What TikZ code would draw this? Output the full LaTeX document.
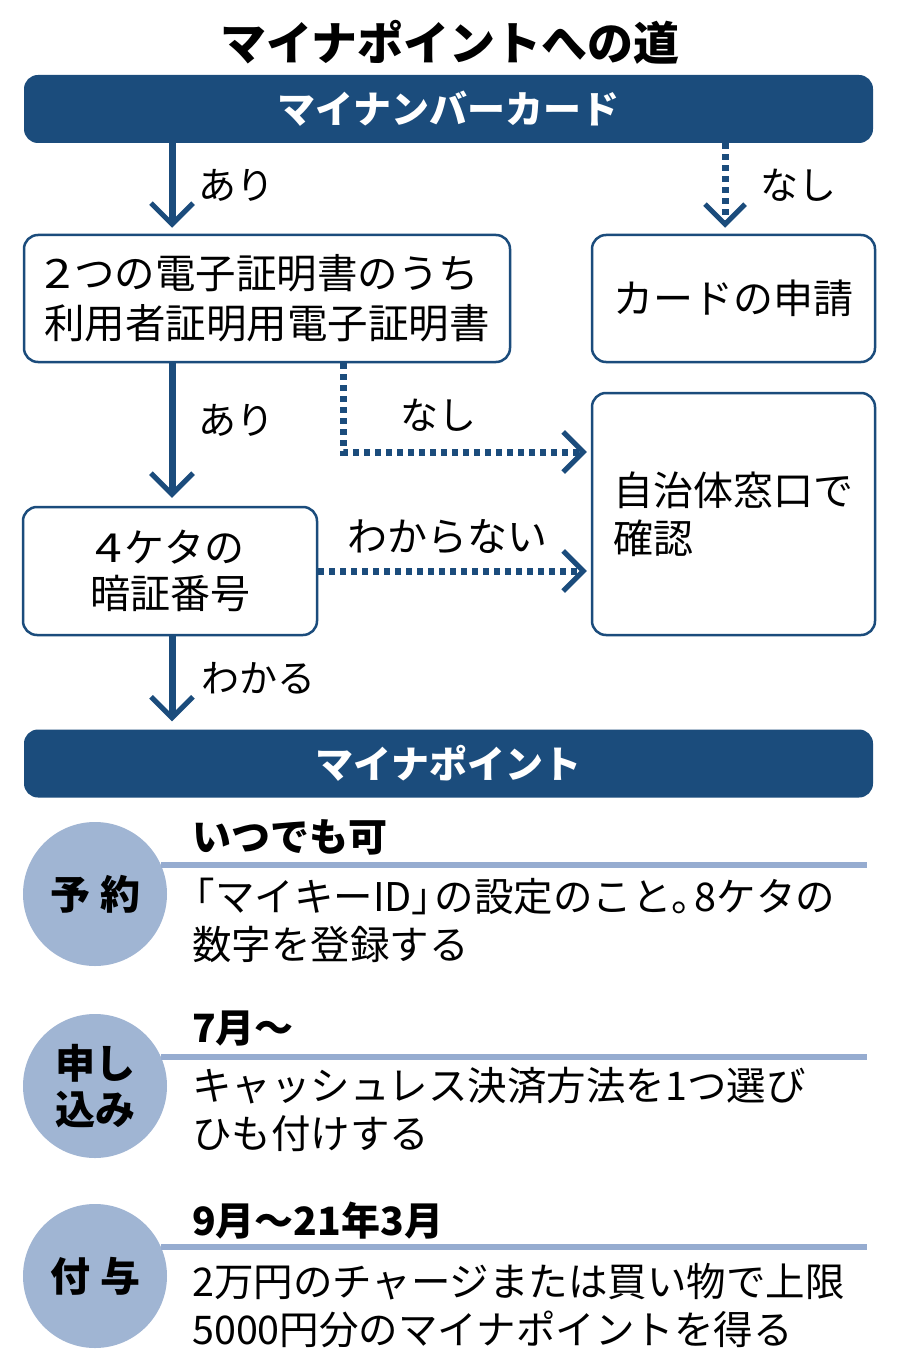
\documentclass[tikz,border=0pt]{standalone}
\usepackage{fontspec}
\usepackage{graphicx}
\setmainfont{Noto Sans CJK JP}
\usetikzlibrary{arrows.meta}
\definecolor{navy}{RGB}{27,76,124}
\definecolor{pale}{RGB}{160,181,211}
\definecolor{paleline}{RGB}{150,172,208}
\newcommand{\fsz}[2]{\fontsize{#1}{#2}\selectfont}
\newcommand{\wdig}[1]{\scalebox{1.2}[1]{#1}\hspace{3pt}}
\begin{document}
\begin{tikzpicture}[x=1pt,y=-1pt,
  banner/.style={fill=navy, rounded corners=14pt, text=white, font=\fsz{38}{46}\bfseries,
    minimum width=849pt, minimum height=68pt, inner sep=0pt},
  box/.style={draw=navy, line width=2.5pt, rounded corners=14pt, fill=white,
    inner sep=0pt, font=\fsz{40}{48}},
  lbl/.style={font=\fsz{38}{46}, inner sep=0pt},
  solidarrow/.style={draw=navy, line width=7pt,
    -{Straight Barb[length=21pt,width=42pt,line width=5pt]}},
  dasharrow/.style={draw=navy, line width=7pt, dash pattern=on 6pt off 5pt,
    -{Straight Barb[length=20pt,width=40pt,line width=5pt]}},
  circ/.style={circle, fill=pale, minimum size=144pt, inner sep=0pt,
    font=\fsz{40}{46}\bfseries, align=center},
  secline/.style={draw=paleline, line width=6pt},
  head/.style={anchor=west, inner sep=0pt, font=\fsz{39}{46}\bfseries},
  body/.style={anchor=west, inner sep=0pt, font=\fsz{39.5}{48}, align=left}
]
\useasboundingbox (0,0) rectangle (900,1364);
\fill[white] (0,0) rectangle (900,1364);

% title
\node[inner sep=0pt, font=\fsz{46}{52}\bfseries] (title) at (450,42) {マイナポイントへの道};

% banners
\node[banner] (card) at (448.5,109) {マイナンバーカード};
\node[banner] (point) at (448.5,763.5) {マイナポイント};

% boxes
\node[box, minimum width=486pt, minimum height=127pt, align=left, font=\fsz{40.5}{50}]
  (cert) at (267,298.5) {\wdig{2}つの電子証明書のうち\\利用者証明用電子証明書};
\node[box, minimum width=283pt, minimum height=127pt] (apply) at (733.5,298.5) {カードの申請};
\node[box, minimum width=283pt, minimum height=242pt, align=left] (office) at (733.5,514) {自治体窓口で\\確認};
\node[box, minimum width=294pt, minimum height=128pt, align=center, font=\fsz{40}{46}] (pin) at (170,571) {\wdig{4}ケタの\\暗証番号};

% helper coordinates
\coordinate (ax) at (172,0);
\coordinate (rx) at (725,0);
\coordinate (mx) at (343,452);

% connectors
\draw[solidarrow, shorten >=6pt] (ax |- card.south) -- (ax |- cert.north);
\draw[dasharrow, shorten >=6pt] (rx |- card.south) -- (rx |- apply.north);
\draw[solidarrow, shorten >=8pt] (ax |- cert.south) -- (ax |- pin.north);
\draw[dasharrow, shorten >=4pt] (mx |- cert.south) -- (mx) -- (mx -| office.west);
\draw[dasharrow, shorten >=4pt] (pin.east) -- (pin.east -| office.west);
\draw[solidarrow, shorten >=8pt] (ax |- pin.south) -- (ax |- point.north);

% labels
\node[lbl] (l1) at (236,185) {あり};
\node[lbl] (l2) at (798,185) {なし};
\node[lbl] (l3) at (236,420) {あり};
\node[lbl] (l4) at (438,415) {なし};
\node[lbl, font=\fsz{40}{46}] (l5) at (447,537) {わからない};
\node[lbl] (l6) at (258,678) {わかる};

% sections
\coordinate (lend) at (867,0);
\node[circ] (c1) at (95,894) {予\hspace{10pt}約};
\node[circ] (c2) at (95,1086) {申し\\込み};
\node[circ] (c3) at (95,1276) {付\hspace{10pt}与};
\draw[secline] (c1.24) -- (c1.24 -| lend);
\draw[secline] (c2.24) -- (c2.24 -| lend);
\draw[secline] (c3.24) -- (c3.24 -| lend);

\node[head] (h1) at (192,837) {いつでも可};
\node[body] (b1) at (192,920) {\hspace{-0.42em}「マイキーID」\hspace{-0.42em}の設定のこと。\hspace{-0.42em}8ケタの\\数字を登録する};
\node[head] (h2) at (192,1029) {7月～};
\node[body] (b2) at (192,1109.5) {キャッシュレス決済方法を1つ選び\\ひも付けする};
\node[head] (h3) at (192,1221) {9月～21年3月};
\node[body] (b3) at (192,1306) {2万円のチャージまたは買い物で上限\\5000円分のマイナポイントを得る};
\end{tikzpicture}
\end{document}
